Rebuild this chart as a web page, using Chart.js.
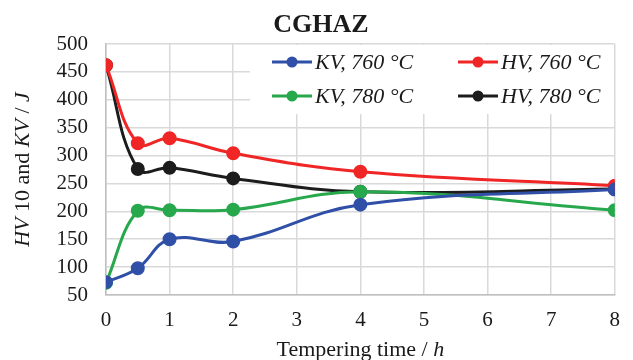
<!DOCTYPE html>
<html><head><meta charset="utf-8">
<script src="https://cdn.jsdelivr.net/npm/chart.js@4/dist/chart.umd.min.js"></script>
<style>html,body{margin:0;padding:0;background:#fff}#wrap{width:633px;height:360px}</style>
</head><body><div id="wrap"><canvas id="c" width="633" height="360"></canvas></div>
<script>
const chartTitle = "CGHAZ";
const times = [0, 0.5, 1, 2, 4, 8];
const kv760 = [73, 98, 150, 146, 212, 239];
const hv760 = [462, 322, 331, 304, 271, 246];
const kv780 = [72, 201, 202, 203, 235, 202];
const hv780 = [462, 276, 278, 259, 235, 240];
const seriesLabels = ["KV, 760 °C", "HV, 760 °C", "KV, 780 °C", "HV, 780 °C"];
const seriesColors = ["#3050A8", "#F02626", "#28A84C", "#1C1C1C"];
const xTicks = [0,1,2,3,4,5,6,7,8];
const yTicks = [50,100,150,200,250,300,350,400,450,500];

const serif = "'Liberation Serif','Times New Roman',serif";
const toPts = arr => arr.map((v,i)=>({x:times[i], y:v}));
const allData = [kv760, hv760, kv780, hv780];

const overlay = {
  id: 'overlay',
  afterDraw(chart) {
    const ctx = chart.ctx, ca = chart.chartArea;
    ctx.save();
    // title
    ctx.fillStyle = '#1a1a1a';
    ctx.font = "bold 26px " + serif;
    ctx.textAlign = 'center'; ctx.textBaseline = 'middle';
    ctx.fillText(chartTitle, 321, 25);
    // legend
    ctx.fillStyle = '#fff';
    ctx.fillRect(250, ca.top + 1, ca.right - 250 - 1, 69);
    const cols = [272, 458], rows = [62, 96];
    ctx.font = "italic 22px " + serif;
    ctx.textAlign = 'left';
    chart.data.datasets.forEach((ds, i) => {
      const x = cols[i % 2], y = rows[Math.floor(i / 2)];
      ctx.strokeStyle = ds.borderColor; ctx.lineWidth = 3;
      ctx.beginPath(); ctx.moveTo(x, y); ctx.lineTo(x + 40, y); ctx.stroke();
      ctx.fillStyle = ds.borderColor;
      ctx.beginPath(); ctx.arc(x + 20, y, 5.5, 0, Math.PI * 2); ctx.fill();
      ctx.fillStyle = '#1a1a1a';
      ctx.fillText(ds.label, x + 43, y + 1);
    });
    // x title
    const fs = 22;
    ctx.font = fs + "px " + serif;
    const p1 = "Tempering time / ", p2 = "h";
    const w1 = ctx.measureText(p1).width;
    ctx.font = "italic " + fs + "px " + serif;
    const w2 = ctx.measureText(p2).width;
    let sx = (ca.left + ca.right) / 2 - (w1 + w2) / 2;
    ctx.textAlign = 'left'; ctx.textBaseline = 'middle';
    ctx.font = fs + "px " + serif; ctx.fillText(p1, sx, 350);
    ctx.font = "italic " + fs + "px " + serif; ctx.fillText(p2, sx + w1, 350);
    // y title
    const parts = [["HV", true], [" 10 and ", false], ["KV", true], [" / ", false], ["J", true]];
    let tot = 0;
    parts.forEach(p => { ctx.font = (p[1] ? "italic " : "") + fs + "px " + serif; p.w = ctx.measureText(p[0]).width; tot += p.w; });
    ctx.translate(23, (ca.top + ca.bottom) / 2);
    ctx.rotate(-Math.PI / 2);
    let px = -tot / 2;
    parts.forEach(p => { ctx.font = (p[1] ? "italic " : "") + fs + "px " + serif; ctx.fillText(p[0], px, 0); px += p.w; });
    ctx.restore();
  }
};

new Chart(document.getElementById('c'), {
  type: 'line',
  data: {
    datasets: allData.map((d, i) => ({
      label: seriesLabels[i],
      data: toPts(d),
      borderColor: seriesColors[i],
      backgroundColor: seriesColors[i],
      borderWidth: 3,
      pointRadius: 5.5,
      pointHoverRadius: 5.5,
      tension: 0.4,
      cubicInterpolationMode: 'default'
    }))
  },
  options: {
    responsive: false,
    animation: false,
    devicePixelRatio: 1,
    layout: { padding: { left: 0, right: 6, top: 44, bottom: 0 } },
    plugins: { legend: { display: false }, title: { display: false }, tooltip: { enabled: false } },
    scales: {
      x: {
        type: 'linear', min: 0, max: 8,
        afterBuildTicks: s => { s.ticks = xTicks.map(v => ({ value: v })); },
        afterFit: s => { s.height = 65; },
        ticks: { color: '#1a1a1a', font: { family: serif, size: 21 }, padding: 13, autoSkip: false, maxRotation: 0 },
        grid: { color: '#d9d9d9', lineWidth: 1.5, drawTicks: false },
        border: { color: '#bfbfbf', width: 1.5 }
      },
      y: {
        min: 50, max: 500,
        afterBuildTicks: s => { s.ticks = yTicks.map(v => ({ value: v })); },
        afterFit: s => { s.width = 106; },
        ticks: { color: '#1a1a1a', font: { family: serif, size: 21 }, padding: 18, autoSkip: false },
        grid: { color: '#d9d9d9', lineWidth: 1.5, drawTicks: false },
        border: { color: '#bfbfbf', width: 1.5 }
      }
    }
  },
  plugins: [overlay]
});
</script></body></html>
